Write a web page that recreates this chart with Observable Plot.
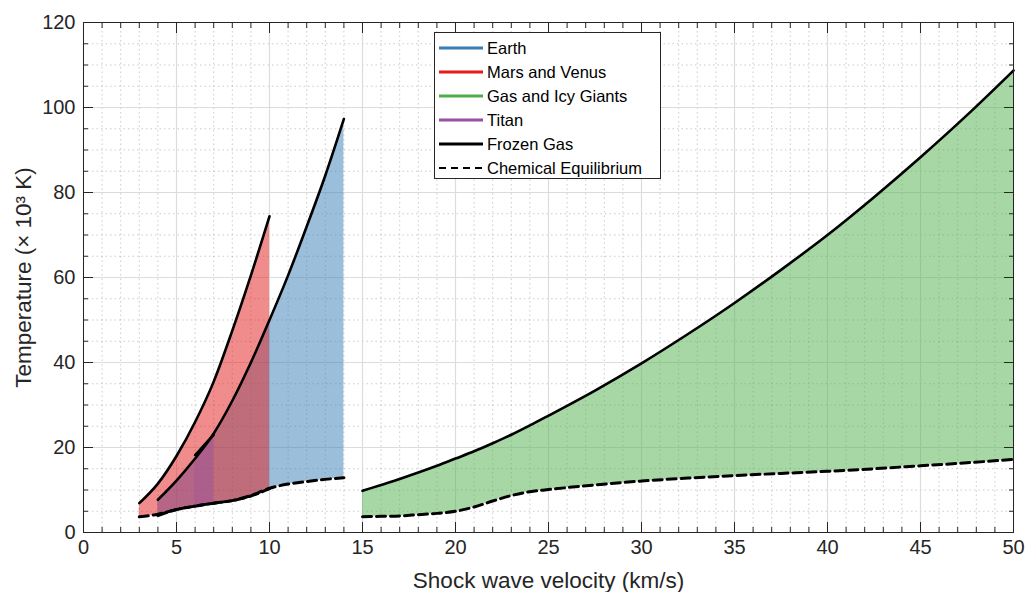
<!DOCTYPE html>
<html>
<head>
<meta charset="utf-8">
<script src="https://cdn.jsdelivr.net/npm/d3@7"></script>
<script src="https://cdn.jsdelivr.net/npm/@observablehq/plot@0.6"></script>
<style>
  html, body { margin: 0; padding: 0; background: white; }
  #wrap { position: relative; width: 1027px; height: 592px; overflow: hidden; }
  #legend { position: absolute; left: 434px; top: 32px; width: 227px; height: 147px;
    background: white; border: 1px solid #262626; box-sizing: border-box;
    font-family: "Liberation Sans", Arial, Helvetica, sans-serif; font-size: 16.5px; color: #000; }
  .row { position: absolute; left: 0; height: 24px; display: flex; align-items: center; }
  .row svg { margin-left: 4px; margin-right: 4px; }
</style>
</head>
<body>
<div id="wrap"><div id="legend"></div></div>
<script>
// ---- Data (velocity in km/s, temperature in 10^3 K) ----
const earthV      = [4, 5, 6, 7, 8, 9, 10, 11, 12, 13, 14];
const earthFrozen = [7.7, 12.2, 17.4, 23.3, 31.0, 40.0, 50.0, 60.5, 72.0, 84.0, 97.3];
const earthEq     = [4.0, 5.4, 6.2, 6.9, 7.5, 8.7, 10.4, 11.4, 12.0, 12.5, 12.9];

const marsV      = [3, 4, 5, 6, 7, 8, 9, 10];
const marsFrozen = [6.9, 11.5, 18.0, 26.0, 35.5, 47.5, 60.5, 74.4];
const marsEq     = [3.7, 4.3, 5.4, 6.2, 6.9, 7.5, 8.6, 10.3];

const titanV      = [4, 5, 6, 7];
const titanFrozen = [7.7, 12.2, 17.4, 23.3];
const titanEq     = [4.0, 5.4, 6.2, 6.9];

const titanHiV      = [6, 6.5, 7];
const titanHiFrozen = [18.2, 20.6, 23.0];
const titanHiEq     = [6.2, 6.5, 6.9];

const giantsV      = [15, 16, 17, 18, 19, 20, 21, 22, 23, 24, 25, 27.5, 30, 32.5, 35, 37.5, 40, 42.5, 45, 47.5, 50];
const giantsFrozen = [9.8, 11.2, 12.6, 14.1, 15.7, 17.4, 19.1, 21.0, 23.0, 25.2, 27.5, 33.4, 39.8, 46.7, 54.0, 61.8, 70.0, 78.9, 88.3, 98.2, 108.7];
const giantsEq     = [3.7, 3.8, 3.9, 4.2, 4.5, 5.0, 6.0, 7.4, 8.7, 9.6, 10.1, 11.2, 12.1, 12.8, 13.4, 13.9, 14.4, 15.0, 15.7, 16.4, 17.2];

const xTicks = [0, 5, 10, 15, 20, 25, 30, 35, 40, 45, 50];
const xMinorTicks = d3.range(0, 51, 1);
const yTicks = [0, 20, 40, 60, 80, 100, 120];
const yMinorTicks = d3.range(0, 121, 5);

const xLabel = "Shock wave velocity (km/s)";
const yLabel = "Temperature (× 10³ K)";
const legendLabels = ["Earth", "Mars and Venus", "Gas and Icy Giants", "Titan", "Frozen Gas", "Chemical Equilibrium"];
const colors = {Earth: "#377eb8", Mars: "#e41a1c", Giants: "#4daf4a", Titan: "#984ea3"};

// ---- Build tables ----
const table = (v, f, e) => v.map((x, i) => ({v: x, frozen: f[i], eq: e[i]}));
const earth = table(earthV, earthFrozen, earthEq);
const mars = table(marsV, marsFrozen, marsEq);
const titan = table(titanV, titanFrozen, titanEq);
const titanHi = table(titanHiV, titanHiFrozen, titanHiEq);
const giants = table(giantsV, giantsFrozen, giantsEq);

const curve = "monotone-x";
const area = (d, c, o = 0.5) => Plot.areaY(d, {x: "v", y1: "eq", y2: "frozen", fill: c, fillOpacity: o, curve});
const frozen = (d) => Plot.line(d, {x: "v", y: "frozen", stroke: "black", strokeWidth: 2.6, curve});
const eq = (d) => Plot.line(d, {x: "v", y: "eq", stroke: "black", strokeWidth: 3, strokeDasharray: "9,5", curve});

const axisCommon = {stroke: "#262626", color: "#262626"};
const noText = () => "";

const chart = Plot.plot({
  width: 1027, height: 592,
  marginLeft: 83, marginRight: 14, marginTop: 22, marginBottom: 60,
  style: {fontFamily: "'Liberation Sans', Arial, Helvetica, sans-serif", fontSize: "20px", color: "#262626", background: "white", overflow: "visible"},
  x: {domain: [0, 50]},
  y: {domain: [0, 120]},
  marks: [
    Plot.gridX(xMinorTicks, {stroke: "#9a9a9a", strokeOpacity: 0.5, strokeDasharray: "1.5,3"}),
    Plot.gridY(yMinorTicks, {stroke: "#9a9a9a", strokeOpacity: 0.5, strokeDasharray: "1.5,3"}),
    Plot.gridX(xTicks, {stroke: "#dcdcdc", strokeOpacity: 1, strokeWidth: 1.2}),
    Plot.gridY(yTicks, {stroke: "#dcdcdc", strokeOpacity: 1, strokeWidth: 1.2}),
    area(earth, colors.Earth),
    area(mars, colors.Mars),
    area(titan, colors.Titan, 0.25),
    area(titanHi, colors.Titan, 0.3),
    area(giants, colors.Giants),
    frozen(mars), eq(mars),
    frozen(earth), eq(earth),
    frozen(titanHi),
    frozen(giants), eq(giants),
    Plot.frame({stroke: "#262626", strokeWidth: 1}),
    // minor ticks (inward)
    Plot.axisX(xMinorTicks, {anchor: "bottom", tickSize: -5, tickFormat: noText, label: null, ...axisCommon}),
    Plot.axisX(xMinorTicks, {anchor: "top", tickSize: -5, tickFormat: noText, label: null, ...axisCommon}),
    Plot.axisY(yMinorTicks, {anchor: "left", tickSize: -5, tickFormat: noText, label: null, ...axisCommon}),
    Plot.axisY(yMinorTicks, {anchor: "right", tickSize: -5, tickFormat: noText, label: null, ...axisCommon}),
    // major ticks + tick labels
    Plot.axisX(xTicks, {anchor: "bottom", tickSize: -10, tickPadding: 17, label: null, fontSize: 20, ...axisCommon}),
    Plot.axisX(xTicks, {anchor: "top", tickSize: -10, tickFormat: noText, label: null, ...axisCommon}),
    Plot.axisY(yTicks, {anchor: "left", tickSize: -10, tickPadding: 18, label: null, fontSize: 20, ...axisCommon}),
    Plot.axisY(yTicks, {anchor: "right", tickSize: -10, tickFormat: noText, label: null, ...axisCommon}),
    // axis titles (larger font)
    Plot.axisX(xTicks, {anchor: "bottom", tickSize: 0, tickFormat: noText, label: xLabel, labelAnchor: "center", labelArrow: "none", labelOffset: 55, fontSize: 22.5, ...axisCommon}),
    Plot.axisY(yTicks, {anchor: "left", tickSize: 0, tickFormat: noText, label: yLabel, labelAnchor: "center", labelArrow: "none", labelOffset: 68, fontSize: 22.5, ...axisCommon})
  ]
});
document.getElementById("wrap").prepend(chart);

// ---- Legend ----
const legend = document.getElementById("legend");
const swatches = [
  {stroke: colors.Earth, dash: null},
  {stroke: colors.Mars, dash: null},
  {stroke: colors.Giants, dash: null},
  {stroke: colors.Titan, dash: null},
  {stroke: "black", dash: null},
  {stroke: "black", dash: "7,5"}
];
legendLabels.forEach((lab, i) => {
  const row = document.createElement("div");
  row.className = "row";
  row.style.top = (3 + i * 24) + "px";
  const s = swatches[i];
  row.innerHTML = `<svg width="44" height="10"><line x1="0" x2="44" y1="5" y2="5" stroke="${s.stroke}" stroke-width="${s.dash ? 2 : 3}" ${s.dash ? `stroke-dasharray="${s.dash}"` : ""}/></svg><span>${lab}</span>`;
  legend.appendChild(row);
});
</script>
</body>
</html>
